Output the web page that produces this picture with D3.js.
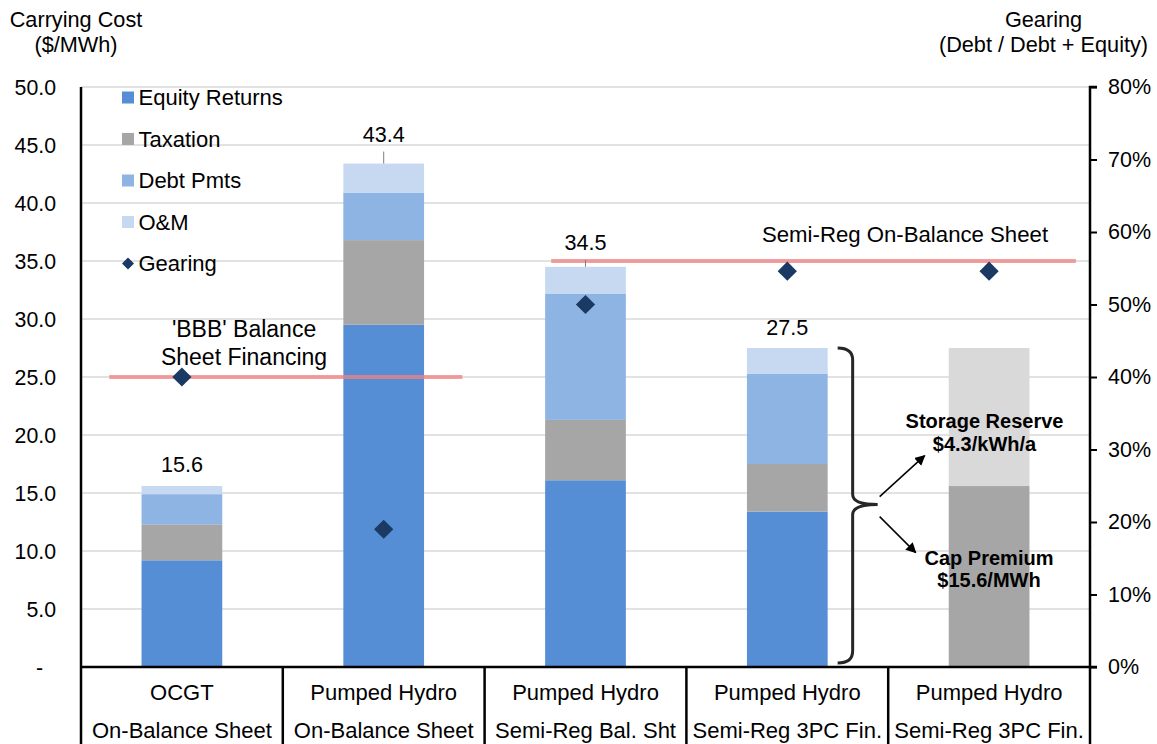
<!DOCTYPE html>
<html>
<head>
<meta charset="utf-8">
<script src="https://cdn.jsdelivr.net/npm/d3@7"></script>
<style>
  html, body { margin: 0; padding: 0; background: #fff; }
  svg { display: block; font-family: "Liberation Sans", Arial, sans-serif; }
</style>
</head>
<body>
<svg id="chart" width="1157" height="744"></svg>
<script>
// Category labels (two lines each)
const catLine1 = ["OCGT", "Pumped Hydro", "Pumped Hydro", "Pumped Hydro", "Pumped Hydro"];
const catLine2 = ["On-Balance Sheet", "On-Balance Sheet", "Semi-Reg Bal. Sht", "Semi-Reg 3PC Fin.", "Semi-Reg 3PC Fin."];

// Carrying cost components ($/MWh)
const equityReturns  = [9.2, 29.5, 16.1, 13.4, 0];
const taxation       = [3.1, 7.3, 5.2, 4.1, 0];
const debtPmts       = [2.6, 4.1, 10.9, 7.8, 0];
const oAndM          = [0.7, 2.5, 2.3, 2.2, 0];
const capPremium     = [0, 0, 0, 0, 15.6];
const storageReserve = [0, 0, 0, 0, 11.9];

// Gearing (Debt / Debt + Equity)
const gearing = [0.40, 0.19, 0.50, 0.546, 0.546];

// Total labels shown above the bars
const totalLabels = [15.6, 43.4, 34.5, 27.5, null];

// Axis ticks
const leftTicks  = [0, 5, 10, 15, 20, 25, 30, 35, 40, 45, 50];
const rightTicks = [0, 0.1, 0.2, 0.3, 0.4, 0.5, 0.6, 0.7, 0.8];

// Reference lines: level on cost axis, span in category units
const refLevels = [25, 35];
const refStart  = [0.14, 2.33];
const refEnd    = [1.89, 4.93];
const refText   = [["'BBB' Balance", "Sheet Financing"], ["Semi-Reg On-Balance Sheet"]];

const seriesKeys   = ["equity", "taxation", "debt", "om", "cap", "storage"];
const seriesNames  = ["Equity Returns", "Taxation", "Debt Pmts", "O&M", "Cap Premium", "Storage Reserve"];
const seriesColors = ["#558ed5", "#a6a6a6", "#8eb4e3", "#c6d9f1", "#a6a6a6", "#d9d9d9"];
const gearingColor = "#1b3a63";

// Vertical lift (px) of each total label above its bar
const labelLift = [14, 22, 17, 13, 0];

const rows = catLine1.map((c, i) => ({
  idx: i,
  equity: equityReturns[i], taxation: taxation[i], debt: debtPmts[i],
  om: oAndM[i], cap: capPremium[i], storage: storageReserve[i]
}));

const svg = d3.select("#chart");
const m = { left: 81, right: 1090, top: 87, bottom: 667 };

const x = d3.scaleBand().domain(d3.range(catLine1.length)).range([m.left, m.right]).padding(0);
const catPos = d3.scaleLinear().domain([0, catLine1.length]).range([m.left, m.right]);
const barW = x.bandwidth() * 0.40;
const yL = d3.scaleLinear().domain([0, 50]).range([m.bottom, m.top]);
const yR = d3.scaleLinear().domain([0, 0.8]).range([m.bottom, m.top]);

// Gridlines
svg.append("g").selectAll("line").data(leftTicks.filter(d => d > 0)).join("line")
  .attr("x1", m.left).attr("x2", m.right)
  .attr("y1", d => yL(d)).attr("y2", d => yL(d))
  .attr("stroke", "#d9d9d9").attr("stroke-width", 1.3);

// Stacked bars
const stack = d3.stack().keys(seriesKeys)(rows);
const gBars = svg.append("g");
stack.forEach((layer, k) => {
  gBars.append("g").attr("fill", seriesColors[k])
    .selectAll("rect").data(layer.filter(d => d[1] - d[0] > 0)).join("rect")
    .attr("x", d => x(d.data.idx) + (x.bandwidth() - barW) / 2)
    .attr("width", barW)
    .attr("y", d => yL(d[1]))
    .attr("height", d => yL(d[0]) - yL(d[1]));
});

// Reference lines
const gRef = svg.append("g");
refLevels.forEach((v, i) => {
  gRef.append("line")
    .attr("x1", catPos(refStart[i])).attr("x2", catPos(refEnd[i]))
    .attr("y1", yL(v)).attr("y2", yL(v))
    .attr("stroke", "#f08080").attr("stroke-opacity", 0.75).attr("stroke-width", 4);
});
// Reference labels
svg.append("g").attr("font-size", 23).attr("text-anchor", "middle").attr("fill", "#000")
  .selectAll("text").data(refText[0]).join("text")
  .attr("x", catPos(0.808)).attr("y", (d, i) => yL(25) - 40 + i * 28)
  .text(d => d);
svg.append("text").attr("font-size", 22.2).attr("text-anchor", "middle")
  .attr("x", 905).attr("y", yL(35) - 19)
  .text(refText[1][0]);

// Total labels with leader ticks
const gTot = svg.append("g");
totalLabels.forEach((t, i) => {
  if (t == null) return;
  const cx = x(i) + x.bandwidth() / 2;
  if (labelLift[i] > 15) {
    gTot.append("line").attr("x1", cx).attr("x2", cx)
      .attr("y1", yL(t) - labelLift[i] + 10).attr("y2", yL(t))
      .attr("stroke", "#7f7f7f").attr("stroke-width", 1);
  }
  gTot.append("text").attr("x", cx).attr("y", yL(t) - labelLift[i])
    .attr("text-anchor", "middle").attr("font-size", 21.6).text(d3.format(".1f")(t));
});

// Gearing diamonds
svg.append("g").selectAll("path").data(gearing).join("path")
  .attr("d", d3.symbol(d3.symbolSquare, 185))
  .attr("transform", (d, i) => `translate(${x(i) + x.bandwidth() / 2},${yR(d)}) rotate(45)`)
  .attr("fill", gearingColor);

// Left axis
const fmtL = d => d === 0 ? "-" : d3.format(".1f")(d);
svg.append("g").attr("font-size", 21.3).attr("text-anchor", "end")
  .selectAll("text").data(leftTicks).join("text")
  .attr("x", d => d === 0 ? 43 : 56).attr("y", d => yL(d) + 7.5)
  .text(fmtL);
svg.append("line").attr("x1", m.left).attr("x2", m.left).attr("y1", m.top).attr("y2", 744)
  .attr("stroke", "#000").attr("stroke-width", 2.5);

// Right axis
const axR = d3.axisRight(yR).tickValues(rightTicks).tickFormat(d3.format(".0%")).tickSize(7).tickPadding(11);
const gR = svg.append("g").attr("transform", `translate(${m.right},0)`).call(axR);
gR.select(".domain").attr("stroke", "#000").attr("stroke-width", 2.5).attr("d", `M7,${m.top}H0V${m.bottom}`);
gR.selectAll(".tick line").attr("stroke", "#000").attr("stroke-width", 2);
gR.selectAll(".tick text").attr("font-size", 21.5).attr("font-family", "Liberation Sans, Arial, sans-serif").attr("fill", "#000");

// Category axis: baseline, separators and two-line labels
svg.append("line").attr("x1", m.left).attr("x2", m.right + 7).attr("y1", m.bottom).attr("y2", m.bottom)
  .attr("stroke", "#000").attr("stroke-width", 2.5);
svg.append("g").selectAll("line").data(d3.range(1, catLine1.length + 1)).join("line")
  .attr("x1", d => catPos(d)).attr("x2", d => catPos(d))
  .attr("y1", m.bottom).attr("y2", 744)
  .attr("stroke", "#000").attr("stroke-width", 2.5);
const gCat = svg.append("g").attr("font-size", 22).attr("text-anchor", "middle");
gCat.selectAll("text.l1").data(catLine1).join("text").attr("class", "l1")
  .attr("x", (d, i) => x(i) + x.bandwidth() / 2).attr("y", 700).text(d => d);
gCat.selectAll("text.l2").data(catLine2).join("text").attr("class", "l2")
  .attr("x", (d, i) => x(i) + x.bandwidth() / 2).attr("y", 738).text(d => d);

// Axis titles
const gTitles = svg.append("g").attr("font-size", 21.7).attr("text-anchor", "middle");
gTitles.append("text").attr("x", 76).attr("y", 27).text("Carrying Cost");
gTitles.append("text").attr("x", 76).attr("y", 52).text("($/MWh)");
gTitles.append("text").attr("x", 1043.5).attr("y", 27).text("Gearing");
gTitles.append("text").attr("x", 1043.5).attr("y", 52).text("(Debt / Debt + Equity)");

// Legend
const legend = svg.append("g").attr("transform", "translate(122,97.5)");
const legItems = seriesNames.slice(0, 4).map((n, i) => ({ name: n, color: seriesColors[i], type: "rect" }))
  .concat([{ name: "Gearing", color: gearingColor, type: "diamond" }]);
legItems.forEach((d, i) => {
  const g = legend.append("g").attr("transform", `translate(0,${i * 41.5})`);
  if (d.type === "rect") {
    g.append("rect").attr("x", 0).attr("y", -6).attr("width", 12).attr("height", 12).attr("fill", d.color);
  } else {
    g.append("path").attr("d", d3.symbol(d3.symbolSquare, 72)).attr("transform", "translate(6,0) rotate(45)").attr("fill", d.color);
  }
  g.append("text").attr("x", 16.5).attr("y", 7.5).attr("font-size", 22).text(d.name);
});

// Brace grouping the semi-regulated 3PC bar
const bx = x(3) + (x.bandwidth() + barW) / 2 + 10;
const yTop = yL(27.5), yBot = yL(0) - 4, yMid = yL(14.0);
const w = 15, tip = 40;
const bracePath = `M${bx},${yTop} Q${bx + w},${yTop} ${bx + w},${yTop + 12}`
  + ` L${bx + w},${yMid - 10} Q${bx + w},${yMid} ${bx + tip},${yMid}`
  + ` Q${bx + w},${yMid} ${bx + w},${yMid + 10}`
  + ` L${bx + w},${yBot - 12} Q${bx + w},${yBot} ${bx},${yBot}`;
svg.append("path").attr("d", bracePath).attr("fill", "none").attr("stroke", "#262626").attr("stroke-width", 3);

// Arrows to the annotation labels
svg.append("defs").append("marker").attr("id", "arrow")
  .attr("viewBox", "0 0 10 10").attr("refX", 9).attr("refY", 5)
  .attr("markerWidth", 7).attr("markerHeight", 7).attr("orient", "auto")
  .append("path").attr("d", "M0,0 L10,5 L0,10 Z").attr("fill", "#000");
const ax0 = bx + tip + 2;
svg.append("line").attr("x1", ax0).attr("y1", yMid - 8).attr("x2", ax0 + 45).attr("y2", yMid - 49)
  .attr("stroke", "#000").attr("stroke-width", 1.5).attr("marker-end", "url(#arrow)");
svg.append("line").attr("x1", ax0).attr("y1", yMid + 12).attr("x2", ax0 + 36).attr("y2", yMid + 48)
  .attr("stroke", "#000").attr("stroke-width", 1.5).attr("marker-end", "url(#arrow)");

// Annotation text
const ann = svg.append("g").attr("font-size", 20).attr("font-weight", "bold").attr("text-anchor", "middle");
ann.append("text").attr("x", 984.5).attr("y", 428).text("Storage Reserve");
ann.append("text").attr("x", 984.5).attr("y", 451).text("$4.3/kWh/a");
ann.append("text").attr("x", 989).attr("y", 565).text("Cap Premium");
ann.append("text").attr("x", 989).attr("y", 587).text("$15.6/MWh");
</script>
</body>
</html>
